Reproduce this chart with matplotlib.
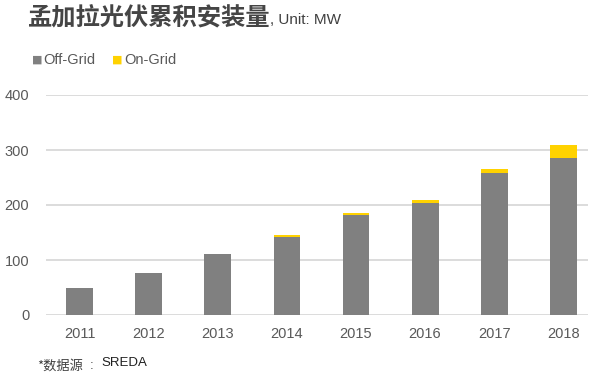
import matplotlib.pyplot as plt
import numpy as np

plt.rcParams['font.family'] = ['Noto Sans CJK SC', 'DejaVu Sans']

years = ['2011', '2012', '2013', '2014', '2015', '2016', '2017', '2018']
off_grid = [50, 76, 111, 142, 182, 204, 258, 286]
on_grid = [0, 0, 0, 3, 4, 5, 7, 24]

gray = '#808080'
yellow = '#FFD200'
txt = '#595959'

fig = plt.figure(figsize=(6, 3.73), dpi=100)
ax = fig.add_axes([46/600, 1 - 315/373, (588 - 46)/600, (315 - 95)/373])

x = np.arange(len(years))
ax.bar(x, off_grid, width=0.39, color=gray, zorder=3, label='Off-Grid')
ax.bar(x, on_grid, width=0.39, bottom=off_grid, color=yellow, zorder=3, label='On-Grid')

ax.set_xlim(-0.49, 7.36)
ax.set_ylim(0, 400)
ax.set_yticks([0, 100, 200, 300, 400])
ax.set_xticks(x)
ax.set_xticklabels(years)
ax.grid(axis='y', color='#D9D9D9', linewidth=1.3, zorder=0)
ax.set_axisbelow(True)
for s in ax.spines.values():
    s.set_visible(False)
ax.tick_params(length=0, colors=txt, labelsize=10)
ax.tick_params(axis='y', pad=12)
ax.tick_params(axis='x', pad=9)
for lab in ax.get_xticklabels() + ax.get_yticklabels():
    lab.set_family('Liberation Sans')
    lab.set_fontsize(10.5)

# title
t = fig.text(28/600, 1 - 18/373, '孟加拉光伏累积安装量', fontsize=17.5, color='#454545',
             fontweight='bold', va='center', ha='left')
fig.canvas.draw()
bb = t.get_window_extent()
fig.text(bb.x1/600, 1 - 20/373, ', Unit: MW', fontsize=11, color='#404040',
         family='Liberation Sans', va='center', ha='left')

# legend
fig.text(32/600, 1 - 60/373, '■', color=gray, fontsize=8, va='center', family='DejaVu Sans')
fig.text(43/600, 1 - 60/373, 'Off-Grid', color=txt, fontsize=10.5, va='center', family='Liberation Sans')
fig.text(112/600, 1 - 60/373, '■', color=yellow, fontsize=8, va='center', family='DejaVu Sans')
fig.text(124/600, 1 - 60/373, 'On-Grid', color=txt, fontsize=10.5, va='center', family='Liberation Sans')

# source
fig.text(37/600, 1 - 366/373, '*数据源', fontsize=9.5, color='#404040', va='center')
fig.text(90/600, 1 - 366/373, ':', fontsize=9.5, color='#404040', va='center', family='Liberation Sans')
fig.text(101/600, 1 - 363/373, 'SREDA', fontsize=9.5, color='#202020', va='center', family='Liberation Sans')

fig.savefig('out.png', dpi=100)
